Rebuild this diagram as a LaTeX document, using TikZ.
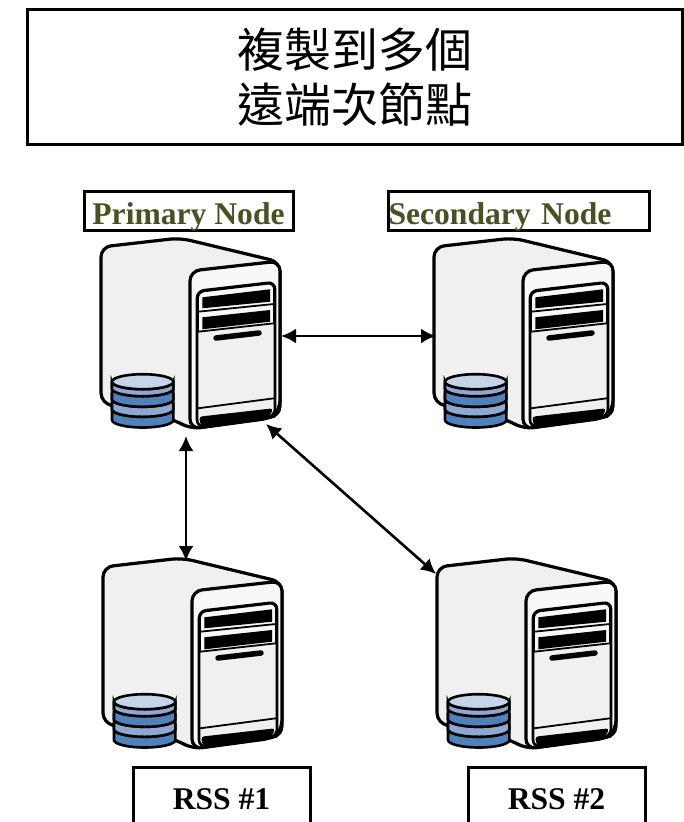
\documentclass[tikz,border=0pt]{standalone}
\usepackage{fontspec}
\setmainfont{Liberation Serif}
\newfontfamily\cjkfont{Noto Sans CJK TC}
\usetikzlibrary{arrows.meta}
\definecolor{olivetext}{HTML}{4B4F23}
\definecolor{bodygray}{HTML}{F0F0F0}
\definecolor{frontgray}{HTML}{F8F8F8}
\definecolor{disctop}{HTML}{C6D4E9}
\definecolor{disclight}{HTML}{8EA9D1}
\definecolor{discdark}{HTML}{4F81BD}
\tikzset{box/.style = {draw, line width = 3, inner sep = 0}}
\tikzset{label/.style = {box, font = \bfseries\fontsize{31.6}{36}\selectfont, text = olivetext, text height = 27, text depth = 0}}
\tikzset{rss/.style = {box, font = \bfseries\fontsize{31.6}{36}\selectfont, minimum width = 177, minimum height = 64}}
\tikzset{link/.style = {{Latex[length=15,width=15]}-{Latex[length=15,width=15]}, line width = 2.6}}
\tikzset{pics/server/.style = {code = {
    \draw [fill = bodygray, line width = 3.2, rounded corners = 10] (1, 80) -- (1, 165) -- (75, 182) -- (90, 191) -- (180, 178) -- (180, 24) -- (80, 0) -- (1, 9) -- cycle;
    \draw [fill = frontgray, line width = 3.2, rounded corners = 10] (90, 100) -- (90, 191) -- (172, 180) -- (180, 172) -- (180, 23) -- (90, 33) -- cycle;
    \draw [fill = bodygray, line width = 2.6, rounded corners = 7] (97, 100) -- (97, 189) -- (175, 178) -- (175, 44) -- (97, 53) -- cycle;
    \draw [fill = frontgray, line width = 1.8] (98, 93.7) -- (98, 60) [rounded corners = 6] -- (98, 54) -- (174, 45) [sharp corners] -- (174, 85.3) -- cycle;
    \draw [line width = 1.8] (98, 73.7) -- (174, 66);
    \draw [line width = 1.8] (98, 170.3) -- (174, 160.3);
    \fill (102.3, 59.3) -- (170, 51.3) -- (170, 63.7) -- (102.3, 70.3) -- cycle;
    \fill (102.3, 79.3) -- (170, 72) -- (170, 83.7) -- (102.3, 91.3) -- cycle;
    \draw [line width = 5.5, line cap = round] (116, 100) -- (159, 95);
    \fill [rounded corners = 3] (99, 178.7) -- (173, 170.3) -- (170, 178) -- (101, 188) -- cycle;
    % disc stack, lowest layer first
    \foreach \ya/\yb/\col in {171.3/182/discdark, 161.3/171.3/disclight, 150.7/161.3/discdark, 143.7/150.7/disclight} {
      \draw [fill = \col, line width = 2.6] (12, \ya) -- (12, \yb) arc [start angle = 180, end angle = 0, x radius = 30.7, y radius = 7.5] -- (73.4, \ya) arc [start angle = 0, end angle = 180, x radius = 30.7, y radius = 7.5] -- cycle;
    }
    \draw [fill = disctop, line width = 2.6] (42.7, 143.7) ellipse [x radius = 30.7, y radius = 7.5];
    \coordinate (-east) at (181, 98);
    \coordinate (-west) at (3, 98);
    \coordinate (-south) at (86, 198);
    \coordinate (-north) at (84, 3);
    \coordinate (-corner) at (166, 186);
    \coordinate (-nw) at (0, 16);
}}}

\begin{document}
\begin{tikzpicture}[x = 1pt, y = -1pt]
    \useasboundingbox (0, 0) rectangle (683, 822);
    \node [box, align = center, minimum width = 655, minimum height = 135, text depth = 3, font = \cjkfont\fontsize{47}{55}\selectfont] (title) at (354.5, 76.5) {複製到多個\\遠端次節點};

    \node [label, minimum width = 209, minimum height = 39] (primarylabel) at (188.5, 210.5) {Primary Node};
    \node [label, minimum height = 39, text width = 261, align = left] (secondarylabel) at (519, 210.5) {Secondary Node};

    \pic (primary) at (100, 238) {server};
    \pic (secondary) at (433, 238) {server};
    \pic (rssone) at (102, 558) {server};
    \pic (rsstwo) at (436, 558) {server};

    \node [rss] (rssonelabel) at (221.5, 799) {RSS \#1};
    \node [rss] (rsstwolabel) at (556.5, 799) {RSS \#2};

    \draw [link] (primary-east) -- (secondary-west);
    \draw [link] (primary-south) -- (rssone-north);
    \draw [link] (primary-corner) -- (rsstwo-nw);
\end{tikzpicture}
\end{document}
